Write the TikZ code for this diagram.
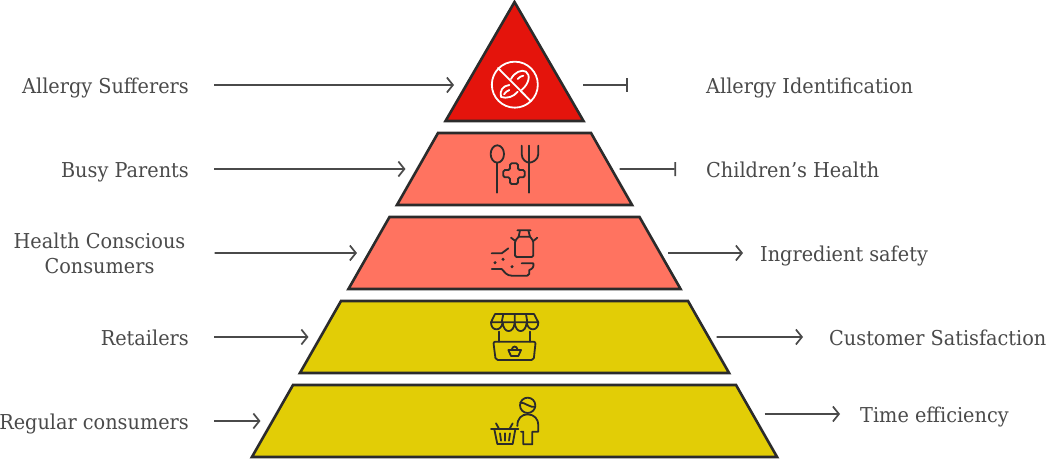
\documentclass[tikz,border=0pt]{standalone}
\usepackage{fontspec}
\setmainfont{DejaVu Serif}[FakeStretch=0.94]
\usetikzlibrary{arrows.meta,shapes.geometric,calc}
\definecolor{inkgrey}{HTML}{4A4A4A}
\definecolor{edgegrey}{HTML}{2B2B2B}
\definecolor{topred}{HTML}{E4140C}
\definecolor{midcoral}{HTML}{FF7360}
\definecolor{lowyellow}{HTML}{E2CD06}
\begin{document}
\begin{tikzpicture}[x=1pt, y=-1pt,
    tier/.style={trapezium, draw=edgegrey, line width=2.6pt, inner sep=0pt, outer sep=0pt,
      trapezium left angle=60.3, trapezium right angle=60.3, text height=72pt, text depth=0pt},
    tagtext/.style={font=\fontsize{20.5}{25}\selectfont, text=inkgrey, inner sep=0pt},
    tagline/.style={tagtext, text height=18pt, text depth=2pt},
    flow/.style={draw=inkgrey, line width=1.7pt, -{Straight Barb[length=6pt,width=15pt]}},
    stub/.style={draw=inkgrey, line width=1.7pt, -{Bar[width=14pt]}},
    icon/.style={draw=edgegrey, line width=1.8pt, line cap=round, line join=round}]
    \useasboundingbox (0,0) rectangle (1048,458);

    % the tiers, top to bottom
    \draw[draw=edgegrey, line width=2.6pt, fill=topred, line join=miter] (514.5,2) -- (445.5,121) -- (583.5,121) -- cycle;
    \node[tier, fill=midcoral, text width=153pt] (tierB) at (514.5,169) {};
    \node[tier, fill=midcoral, text width=250pt] (tierC) at (514.5,253) {};
    \node[tier, fill=lowyellow, text width=347pt] (tierD) at (514.5,337) {};
    \node[tier, fill=lowyellow, text width=443pt] (tierE) at (514.5,421) {};
    \coordinate (sideAl) at (466,85);
    \coordinate (sideAr) at (563,85);

    % left labels
    \node[tagline, anchor=east] (whoA) at (189,85) {Allergy Sufferers};
    \node[tagline, anchor=east] (whoB) at (189,169) {Busy Parents};
    \node[tagtext, align=center] (whoC) at (99.5,253) {Health Conscious\\Consumers};
    \node[tagline, anchor=east] (whoD) at (189,337) {Retailers};
    \node[tagline, anchor=east] (whoE) at (189,421) {Regular consumers};

    % right labels
    \node[tagline, anchor=west] (goalA) at (706,85) {Allergy Identification};
    \node[tagline, anchor=west] (goalB) at (706,169) {Children’s Health};
    \node[tagline, anchor=west] (goalC) at (760,253) {Ingredient safety};
    \node[tagline, anchor=west] (goalD) at (829,337) {Customer Satisfaction};
    \node[tagline, anchor=west] (goalE) at (860,414) {Time efficiency};

    % connectors
    \draw[flow, shorten <=25pt, shorten >=12pt] (whoA.east) -- (sideAl);
    \draw[flow, shorten <=25pt, shorten >=12pt] (whoB.east) -- (tierB.west);
    \draw[flow, shorten <=29pt, shorten >=12pt] (whoC.east) -- (tierC.west);
    \draw[flow, shorten <=25pt, shorten >=12pt] (whoD.east) -- (tierD.west);
    \draw[flow, shorten <=25pt, shorten >=12pt] (whoE.east) -- (tierE.west);
    \draw[stub, shorten <=20pt, shorten >=78pt] (sideAr) -- (goalA.west);
    \draw[stub, shorten <=8pt, shorten >=30pt] (tierB.east) -- (goalB.west);
    \draw[flow, shorten <=8pt, shorten >=17pt] (tierC.east) -- (goalC.west);
    \draw[flow, shorten <=8pt, shorten >=26pt] (tierD.east) -- (goalD.west);
    \draw[flow, shorten <=8pt, shorten >=20pt] (tierE.east |- goalE.west) -- (goalE.west);

    % icons, in the pixels of a 3x crop
    \begin{scope}[shift={(480,55)}, x=0.3333pt, y=-0.3333pt, icon, draw=white]
      \draw (104.5,89) circle (69);
      \draw (54,39) -- (152,138);
      \draw (93,72) .. controls (103,52) and (125,42) .. (138,50) .. controls (152,60) and (148,85) .. (125,105);
      \draw (113,72) .. controls (118,66) and (124,63) .. (130,62);
      \draw (88,90) .. controls (68,92) and (58,108) .. (63,126) .. controls (80,132) and (102,125) .. (113,110);
      \draw (72,118) .. controls (76,112) and (82,107) .. (88,105);
    \end{scope}
    \begin{scope}[shift={(430,0)}, x=0.3333pt, y=-0.3333pt, icon]
      \draw (202,462) ellipse (20 and 26);
      \draw (202,488) -- (202,578);
      \draw (275,437) -- (275,462) .. controls (275,480) and (290,488) .. (298,488) .. controls (306,488) and (325,480) .. (325,462) -- (325,437);
      \draw (298,437) -- (298,578);
      \draw[rounded corners=1.5pt] (240,490) -- (264,490) -- (264,510) -- (284,510) -- (284,532) -- (264,532) -- (264,552) -- (240,552) -- (240,532) -- (220,532) -- (220,510) -- (240,510) -- cycle;
    \end{scope}
    \begin{scope}[shift={(440,215)}, x=0.3333pt, y=-0.3333pt, icon]
      \draw (232,46) -- (272,46) (240,46) -- (236,65) (265,46) -- (270,65) (236,65) -- (270,65);
      \draw[rounded corners=1.5pt] (236,65) -- (225,78) -- (225,126) -- (280,126) -- (280,78) -- (270,65);
      \draw (213,68) -- (226,78) (292,68) -- (280,78);
      \draw (155,115) -- (185,115) -- (205,100);
      \fill[edgegrey] (189,133) circle (5) (165,143) circle (5) (216,155) circle (5);
      \draw (155,162) -- (185,162) .. controls (195,172) and (200,182) .. (215,182) -- (262,182) .. controls (268,182) and (270,172) .. (268,165) .. controls (278,162) and (282,155) .. (280,145) -- (245,145);
    \end{scope}
    \begin{scope}[shift={(440,300)}, x=0.3333pt, y=-0.3333pt, icon]
      \draw (165,42) -- (282,42) -- (295,67) (165,42) -- (153,67) -- (295,67);
      \draw (190,42) -- (185,67) (224,42) -- (224,67) (258,42) -- (262,67);
      \draw (153,67) .. controls (153,95) and (185,95) .. (188,67) .. controls (190,102) and (222,102) .. (224,67) .. controls (226,102) and (258,102) .. (260,67) .. controls (263,95) and (295,95) .. (295,67);
      \draw (178,95) -- (178,125) (270,95) -- (270,125);
      \draw[rounded corners=2pt] (160,125) -- (287,125) -- (281,180) -- (167,180) -- cycle;
      \draw (205,150) -- (243,150) -- (235,168) -- (213,168) -- cycle;
      \draw (215,150) .. controls (217,136) and (231,136) .. (233,150);
    \end{scope}
    \begin{scope}[shift={(440,300)}, x=0.3333pt, y=-0.3333pt, icon]
      \draw (263,316) circle (23);
      \draw (241,308) .. controls (255,306) and (270,325) .. (286,320);
      \draw (232,378) .. controls (232,355) and (245,343) .. (263,343) .. controls (283,343) and (295,358) .. (295,375) -- (295,395) -- (277,395) -- (277,433) -- (250,433) -- (250,395) -- (243,395);
      \draw (153,388) -- (235,388);
      \draw (168,370) -- (178,388) (218,370) -- (208,388);
      \draw (163,388) -- (172,432) -- (218,432) -- (226,388);
      \draw (180,400) -- (183,422) (195,400) -- (195,422) (210,400) -- (207,422);
    \end{scope}
\end{tikzpicture}
\end{document}
